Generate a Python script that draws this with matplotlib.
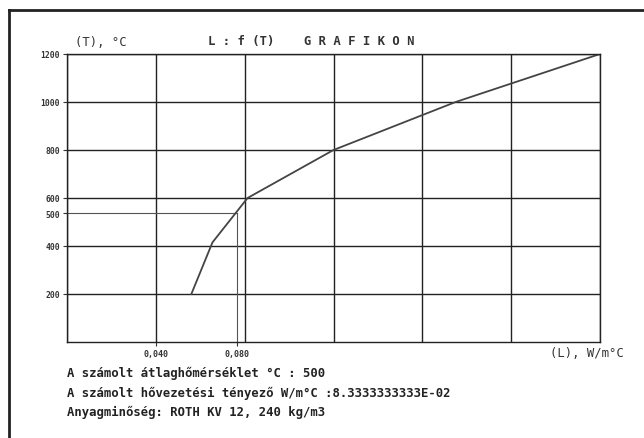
import matplotlib.pyplot as plt
from matplotlib.lines import Line2D

# L = f(T) curve
temps = [200, 415, 600, 800, 1000, 1200]
lambdas = [0.056, 0.0655, 0.0813, 0.12, 0.175, 0.24]

yticks = [200, 400, 600, 800, 1000, 1200]
xgrid = [0.0, 0.04, 0.08, 0.12, 0.16, 0.20, 0.24]
xlabels = {0.04: '0,040'}

# reference point (the old screen draws the 500 line a bit high)
ref_T = 537
ref_L = 0.0765
ref_T_label = '500'
ref_L_label = '0,080'

info = ['A számolt átlaghőmérséklet °C : 500',
        'A számolt hővezetési tényező W/m°C :8.3333333333E-02',
        'Anyagminőség: ROTH KV 12, 240 kg/m3']

mono = 'DejaVu Sans Mono'
fs = 6
big = 8.8

fig = plt.figure(figsize=(6.44, 4.39), dpi=100)
ax = fig.add_axes([67/644, 1 - 343/439, (600-67)/644, (343-55)/439])
ax.set_xlim(0, 0.24)
ax.set_ylim(0, 1200)

for x in xgrid:
    ax.axvline(x, color='#222222', lw=1)
for y in yticks:
    ax.axhline(y, color='#222222', lw=1)

ax.plot([0, ref_L], [ref_T, ref_T], color='#555555', lw=0.8)
ax.plot([ref_L, ref_L], [0, ref_T], color='#555555', lw=0.8)

ax.plot(lambdas, temps, color='#444444', lw=1.3)

ax.set_yticks(yticks + [ref_T])
ax.set_yticklabels([str(v) for v in yticks] + [ref_T_label],
                   fontsize=5.8, family=mono, color='#333333',
                   fontweight='bold')
xt = list(xlabels.keys()) + [ref_L]
ax.set_xticks(xt)
ax.set_xticklabels(list(xlabels.values()) + [ref_L_label],
                   fontsize=fs, family=mono, color='#333333',
                   fontweight='bold')
ax.tick_params(length=3, width=0.8, pad=2, color='#333333')
for s in ax.spines.values():
    s.set_color('#222222')
    s.set_linewidth(1)

fig.text(75/644, 1 - 42/439, '(T), °C', fontsize=big, family=mono,
         color='#333333', va='center')
fig.text(208/644, 1 - 42/439, 'L : f (T)    G R A F I K O N', fontsize=big,
         family=mono, color='#333333', va='center', fontweight='bold')
fig.text(550/644, 1 - 354/439, '(L), W/m°C', fontsize=big, family=mono,
         color='#333333', va='center')

for i, line in enumerate(info):
    fig.text(67/644, 1 - [373, 393, 412][i]/439, line, fontsize=big,
             family=mono, color='#222222', va='center', fontweight='bold')

fig.add_artist(Line2D([9/644, 9/644], [0, 1 - 11/439], color='#222222',
                      lw=2, transform=fig.transFigure))
fig.add_artist(Line2D([9/644, 1], [1 - 11/439, 1 - 11/439], color='#222222',
                      lw=2, transform=fig.transFigure))

fig.savefig('out.png', dpi=100)
